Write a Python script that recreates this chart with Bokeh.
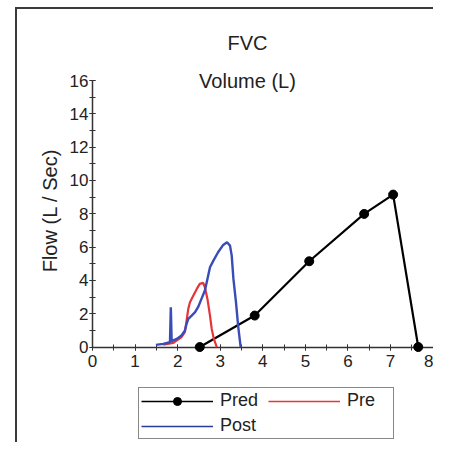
import math
from bokeh.plotting import figure
from bokeh.models import (Range1d, SingleIntervalTicker, Legend, LegendItem)
from bokeh.core.properties import value
from bokeh.embed import file_html
from bokeh.resources import INLINE

# ---- data (volume in L, flow in L/sec) ----
pred_volume = [2.52, 3.81, 5.09, 6.38, 7.06, 7.65]
pred_flow = [0.0, 1.89, 5.15, 7.99, 9.15, 0.0]

pre_volume = [1.66, 1.90, 2.09, 2.17, 2.21, 2.25, 2.29, 2.37, 2.45, 2.52,
              2.60, 2.64, 2.70, 2.76, 2.80, 2.85, 2.92]
pre_flow = [0.15, 0.25, 0.59, 0.89, 1.59, 2.29, 2.69, 3.09, 3.49, 3.79,
            3.85, 3.59, 2.89, 1.89, 1.09, 0.49, 0.0]

post_volume = [1.49, 1.66, 1.82, 1.84, 1.86, 1.98, 2.09, 2.17, 2.21, 2.25,
               2.33, 2.41, 2.48, 2.56, 2.64, 2.70, 2.76, 2.84, 2.95, 3.07,
               3.16, 3.23, 3.27, 3.31, 3.37, 3.42, 3.48]
post_flow = [0.13, 0.19, 0.29, 2.39, 0.35, 0.49, 0.69, 0.99, 1.39, 1.69,
             1.89, 2.09, 2.39, 2.89, 3.39, 4.09, 4.79, 5.19, 5.69, 6.13,
             6.29, 6.09, 5.49, 4.09, 2.69, 1.29, 0.0]

series_names = ["Pred", "Pre", "Post"]
chart_title = "FVC"
x_title = "Volume (L)"
y_title = "Flow (L / Sec)"

FONT = "Liberation Sans"
AXIS_COLOR = "#333333"
TEXT_COLOR = "#222222"
RED = "#e5343a"
BLUE = "#3a4cb8"

# the plot area spans the whole canvas; both axes are pinned at 0 so that
# titles, tick labels and legend all sit inside it
p = figure(width=418, height=435, output_backend="svg", toolbar_location=None,
           x_range=Range1d(-1.76, 8.055), y_range=Range1d(-5.85, 20.262),
           min_border_left=0, min_border_right=0, min_border_top=0,
           min_border_bottom=0)
p.outline_line_color = None
p.xgrid.visible = False
p.ygrid.visible = False
# outer frame of the page: only its top and left edges are in view
p.styles = {"margin-left": "15px", "margin-top": "7px",
            "border-top": "2px solid #3a3a3a",
            "border-left": "2px solid #3a3a3a"}

# axes
p.xaxis.ticker = SingleIntervalTicker(interval=1, num_minor_ticks=2)
p.yaxis.ticker = SingleIntervalTicker(interval=2, num_minor_ticks=2)
p.xaxis.fixed_location = 0
p.yaxis.fixed_location = 0
p.xaxis.bounds = (0, 8.055)
p.yaxis.bounds = (0, 16)
for ax in (p.xaxis, p.yaxis):
    ax.axis_line_color = AXIS_COLOR
    ax.axis_line_width = 1.5
    ax.major_tick_line_color = AXIS_COLOR
    ax.minor_tick_line_color = AXIS_COLOR
    ax.major_tick_line_width = 1
    ax.minor_tick_line_width = 1
    ax.major_tick_in = 3
    ax.major_tick_out = 3
    ax.minor_tick_in = 3
    ax.minor_tick_out = 3
    ax.major_label_text_font = FONT
    ax.major_label_text_font_size = "17px"
    ax.major_label_text_color = TEXT_COLOR
p.xaxis.major_label_standoff = 5
p.yaxis.major_label_standoff = 1

# series
p.line(pred_volume, pred_flow, line_color="black", line_width=2.2,
       level="overlay")
pred_pts = p.scatter(pred_volume, pred_flow, size=9, color="black",
                     level="overlay")
p.line(pre_volume, pre_flow, line_color=RED, line_width=2.2, level="overlay")
p.line(post_volume, post_flow, line_color=BLUE, line_width=2.4,
       level="overlay")

# thin legend swatches (hidden renderers of the same series)
leg_pred = p.line(pred_volume, pred_flow, line_color="black", line_width=1.3,
                  visible=False)
leg_pre = p.line(pre_volume, pre_flow, line_color=RED, line_width=1.3,
                 visible=False)
leg_post = p.line(post_volume, post_flow, line_color="#2a3a9a",
                  line_width=1.3, visible=False)

legend = Legend(items=[
    LegendItem(label=series_names[0], renderers=[leg_pred, pred_pts]),
    LegendItem(label=series_names[1], renderers=[leg_pre]),
    LegendItem(label=series_names[2], renderers=[leg_post]),
], orientation="horizontal", ncols=2, location=(121, 5))
legend.border_line_color = "#111111"
legend.border_line_width = 1.5
legend.background_fill_color = "white"
legend.background_fill_alpha = 1
legend.inactive_fill_alpha = 0
legend.label_text_font = FONT
legend.label_text_font_size = "18px"
legend.label_text_color = TEXT_COLOR
legend.glyph_width = 72
legend.glyph_height = 20
legend.label_height = 20
legend.label_width = 44
legend.label_standoff = 7
legend.spacing = 4
legend.padding = 2
legend.margin = 0
p.add_layout(legend)

# chart title, volume caption and flow caption (as placed in the original)
p.text(x=[3.64, 3.64], y=[18.28, 16.0], text=[chart_title, x_title],
       text_align="center", text_baseline="middle",
       text_font=value(FONT), text_font_size=value("20px"),
       text_color=TEXT_COLOR, level="overlay")
p.text(x=[-0.99], y=[8.19], text=[y_title], angle=math.pi / 2,
       text_align="center", text_baseline="middle",
       text_font=value(FONT), text_font_size=value("20px"),
       text_color=TEXT_COLOR, level="overlay")

open("out.html", "w").write(file_html(p, INLINE))
